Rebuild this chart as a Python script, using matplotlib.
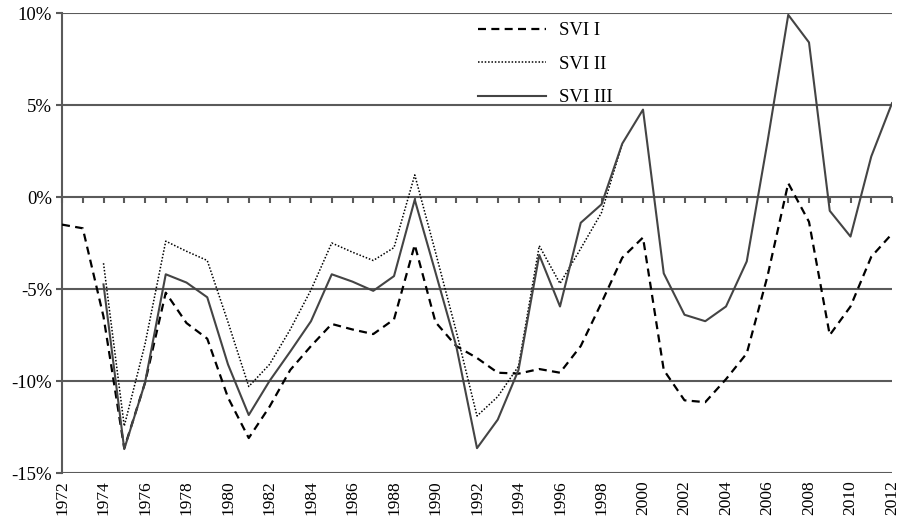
import matplotlib
matplotlib.use("Agg")
import matplotlib.pyplot as plt
import numpy as np

years = list(range(1972, 2013))

# SVI I (dashed), 1972-2012
svi1 = [-1.5, -1.7, -6.5, -13.65, -10.1, -5.2, -6.85, -7.7, -10.9, -13.1,
        -11.4, -9.4, -8.1, -6.9, -7.2, -7.45, -6.65, -2.6, -6.8, -8.1,
        -8.75, -9.55, -9.6, -9.35, -9.55, -8.1, -5.75, -3.3, -2.2, -9.4,
        -11.05, -11.15, -9.9, -8.5, -4.3, 0.75, -1.35, -7.5, -5.95, -3.25, -2.0]

# SVI II (dotted), 1974-1999
svi2_years = list(range(1974, 2000))
svi2 = [-3.6, -12.45, -8.0, -2.4, -2.95, -3.45, -6.8, -10.3, -9.1, -7.2,
        -5.05, -2.5, -3.0, -3.45, -2.75, 1.2, -3.0, -7.3, -11.9, -10.85,
        -9.2, -2.65, -4.7, -2.8, -0.85, 2.9]

# SVI III (solid), 1974-2012
svi3_years = list(range(1974, 2013))
svi3 = [-4.75, -13.7, -10.1, -4.2, -4.65, -5.45, -9.1, -11.85, -10.0, -8.4,
        -6.75, -4.2, -4.6, -5.1, -4.3, -0.15, -4.1, -8.1, -13.65, -12.1,
        -9.4, -3.15, -5.95, -1.4, -0.4, 2.9, 4.75, -4.15, -6.4, -6.75,
        -5.95, -3.5, 3.0, 9.9, 8.4, -0.75, -2.15, 2.2, 5.1]

yticks = [-15, -10, -5, 0, 5, 10]
ytick_labels = ["-15%", "-10%", "-5%", "0%", "5%", "10%"]
xtick_years = list(range(1972, 2013, 2))

plt.rcParams['font.family'] = ['Liberation Serif', 'DejaVu Serif']

fig = plt.figure(figsize=(9.07, 5.28), dpi=100)
ax = fig.add_axes([62/907, 1-473/528, (892-62)/907, (473-13)/528])

grid_c = '#5a5a5a'
ymin, ymax = -15, 10
ax.set_xlim(1972, 2012)
ax.set_ylim(ymin, ymax)

for v in yticks:
    ax.axhline(v, color=grid_c, lw=1.5, zorder=1, solid_capstyle='butt')

ax.plot(years, svi1, color='black', lw=1.6, linestyle=(0, (3.6, 2.4)), label='SVI I', zorder=3)
ax.plot(svi2_years, svi2, color='black', lw=1.1, linestyle=(0, (1.0, 1.2)), label='SVI II', zorder=3)
ax.plot(svi3_years, svi3, color='#444444', lw=1.5, linestyle='-', label='SVI III', zorder=4)

for s in ['top', 'right', 'bottom']:
    ax.spines[s].set_visible(False)
ax.spines['left'].set_color(grid_c)
ax.spines['left'].set_linewidth(1.5)
ax.spines['left'].set_zorder(2)

ax.set_yticks(yticks)
ax.set_yticklabels(ytick_labels, fontsize=13.5)
ax.tick_params(axis='y', direction='out', length=4, width=1.5, color=grid_c, pad=3)

ax.set_xticks(xtick_years)
ax.set_xticklabels([str(y) for y in xtick_years], rotation=90, fontsize=12.5, va='top', ha='center')
ax.tick_params(axis='x', length=0, pad=5)

# small ticks along the zero line, one per year, pointing down
sec = ax.secondary_xaxis((0 - ymin) / (ymax - ymin))
sec.set_xticks(years)
sec.set_xticklabels([])
sec.tick_params(axis='x', direction='in', length=4, width=1.5, color=grid_c)
for s in sec.spines.values():
    s.set_visible(False)

leg = fig.legend(loc='upper left', bbox_to_anchor=(478/907, 1-22/528), frameon=False,
                 fontsize=13.5, handlelength=3.6, handletextpad=0.7, labelspacing=0.88,
                 borderpad=0, borderaxespad=0)

fig.savefig('out.png', dpi=100)
